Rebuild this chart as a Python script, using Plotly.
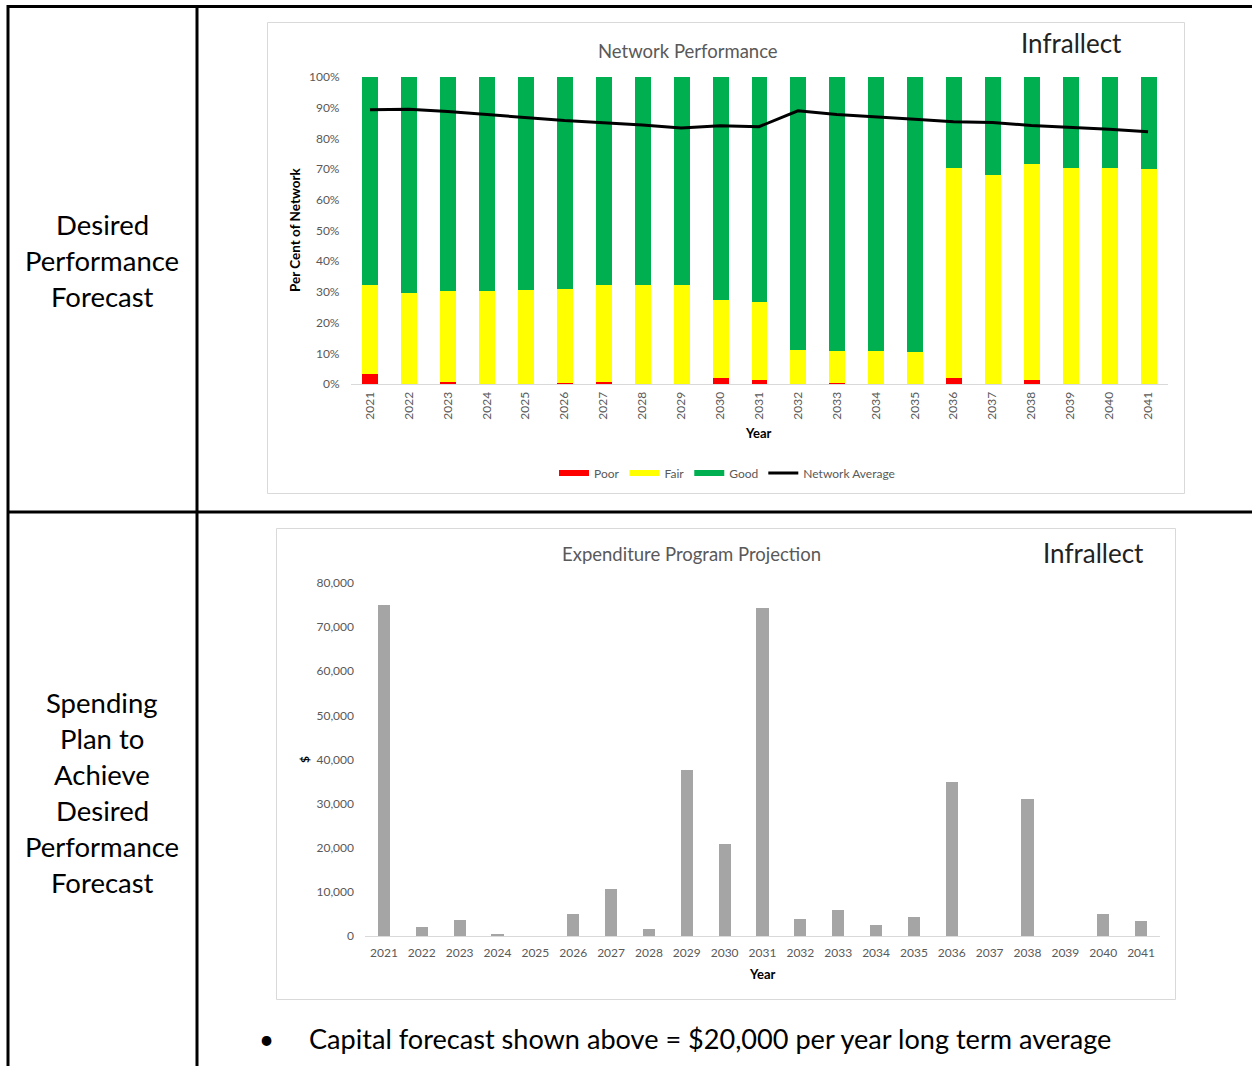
import plotly.graph_objects as go

W, H = 1252, 1066

years = [str(y) for y in range(2021, 2042)]
poor = [3.1, 0.0, 0.5, 0.0, 0.0, 0.4, 0.7, 0.0, 0.0, 2.0, 1.3,
        0.0, 0.3, 0.0, 0.0, 2.0, 0.0, 1.3, 0.0, 0.0, 0.0]
fair_top = [32.2, 29.8, 30.3, 30.3, 30.5, 30.9, 32.2, 32.2, 32.2, 27.3, 26.6,
            11.2, 10.9, 10.9, 10.5, 70.4, 68.2, 71.7, 70.4, 70.4, 70.1]
network_avg = [89.3, 89.5, 88.8, 87.8, 86.8, 85.8, 85.1, 84.4, 83.4, 84.1, 83.8,
               89.0, 87.8, 86.9, 86.2, 85.4, 85.2, 84.2, 83.7, 83.0, 82.2]
fair = [round(f - p, 2) for f, p in zip(fair_top, poor)]
good = [round(100 - f, 2) for f in fair_top]

expenditure = [75000, 2100, 3600, 500, 0, 4900, 10700, 1500, 37700, 20800,
               74300, 3900, 6000, 2400, 4200, 35000, 0, 31100, 0, 5100, 3300]

FONT = "Lato"
GRAY = "#595959"


def px(x):
    return x / W


def py(y):
    return 1 - y / H


fig = go.Figure()

# ---- top chart: stacked condition bars ----
for name, vals, col in [("Poor", poor, "#ff0000"), ("Fair", fair, "#ffff00"),
                        ("Good", good, "#00b050")]:
    fig.add_trace(go.Bar(x=years, y=vals, name=name, marker_color=col,
                         marker_line_width=0, width=0.41, showlegend=False,
                         xaxis="x", yaxis="y"))
fig.add_trace(go.Scatter(x=years, y=network_avg, mode="lines", name="Network Average",
                         line=dict(color="black", width=3), showlegend=False,
                         xaxis="x", yaxis="y"))
# legend entries
for name, col, w in [("Poor", "#ff0000", 6), ("Fair", "#ffff00", 6),
                     ("Good", "#00b050", 6), ("Network Average", "black", 3)]:
    fig.add_trace(go.Scatter(x=[None], y=[None], mode="lines", name=name,
                             line=dict(color=col, width=w), xaxis="x", yaxis="y"))

# ---- bottom chart: expenditure ----
fig.add_trace(go.Bar(x=years, y=expenditure, marker_color="#a5a5a5", marker_line_width=0,
                     width=0.32, showlegend=False, xaxis="x2", yaxis="y2"))

shapes = []
# table lines
line = dict(color="black", width=3)
shapes += [
    dict(type="line", xref="paper", yref="paper", x0=px(8), x1=px(8), y0=py(5), y1=py(1066), line=line),
    dict(type="line", xref="paper", yref="paper", x0=px(197), x1=px(197), y0=py(5), y1=py(1066), line=line),
    dict(type="line", xref="paper", yref="paper", x0=px(7), x1=px(1252), y0=py(6.5), y1=py(6.5), line=line),
    dict(type="line", xref="paper", yref="paper", x0=px(7), x1=px(1252), y0=py(512), y1=py(512), line=line),
]
# chart frames
frame = dict(color="#d9d9d9", width=1)
shapes += [
    dict(type="rect", xref="paper", yref="paper", x0=px(267.5), x1=px(1184.5), y0=py(22.5), y1=py(493.5), line=frame),
    dict(type="rect", xref="paper", yref="paper", x0=px(276.5), x1=px(1175.5), y0=py(528.5), y1=py(999.5), line=frame),
]

ann = []


def text(x, y, t, size, color="black", bold=False, angle=0, xanchor="center"):
    ann.append(dict(x=px(x), y=py(y), xref="paper", yref="paper", text=("<b>%s</b>" % t) if bold else t,
                    showarrow=False, xanchor=xanchor, yanchor="middle", textangle=angle,
                    font=dict(family=FONT, size=size, color=color)))


# left cells
for i, t in enumerate(["Desired", "Performance", "Forecast"]):
    text(102, 224 + 36 * i, t, 27.5)
for i, t in enumerate(["Spending", "Plan to", "Achieve", "Desired", "Performance", "Forecast"]):
    text(102, 703 + 35.8 * i, t, 27.5)

# chart titles and logos
text(688, 51, "Network Performance", 18.5, GRAY)
text(1071, 43, "Infrallect", 26, "#222222")
text(691, 554, "Expenditure Program Projection", 18.5, GRAY)
text(1093, 553, "Infrallect", 26, "#222222")

# axis titles
text(295, 230, "Per Cent of Network", 13.5, "black", bold=True, angle=-90)
text(758, 433, "Year", 13, "black", bold=True)
text(304, 760, "$", 12, "black", bold=True, angle=-90)
text(762, 974, "Year", 13, "black", bold=True)

# bullet
text(266, 1039, "•", 26, xanchor="center")
text(307, 1038, "Capital forecast shown above = $20,000 per year long term average", 27.1, xanchor="left")

tickfont = dict(family=FONT, size=12, color=GRAY)

fig.update_layout(
    width=W, height=H, margin=dict(l=0, r=0, t=0, b=0, autoexpand=False),
    paper_bgcolor="white", plot_bgcolor="white",
    barmode="stack", bargap=0,
    shapes=shapes, annotations=ann,
    legend=dict(orientation="h", x=px(727), xanchor="center", y=py(473), yanchor="middle",
                font=dict(family=FONT, size=12, color=GRAY), bgcolor="rgba(0,0,0,0)",
                itemwidth=30, tracegroupgap=0, traceorder="normal"),
    xaxis=dict(domain=[px(350.5), px(1167.5)], anchor="y", type="category", automargin=False,
               showgrid=False, showline=True, linecolor="#d9d9d9", linewidth=1,
               tickangle=-90, tickfont=tickfont, ticks="", ticklabelstandoff=2, zeroline=False),
    yaxis=dict(domain=[py(384), py(77)], anchor="x", range=[0, 100], tickvals=list(range(0, 101, 10)),
               ticktext=["%d%%" % v for v in range(0, 101, 10)], showgrid=False, showline=False,
               automargin=False, zeroline=False, tickfont=tickfont, ticks="", ticklabelstandoff=10),
    xaxis2=dict(domain=[px(365), px(1160)], anchor="y2", type="category", automargin=False,
                showgrid=False, showline=True, linecolor="#d9d9d9", linewidth=1,
                tickfont=tickfont, ticks="", ticklabelstandoff=6, zeroline=False),
    yaxis2=dict(domain=[py(936), py(583)], anchor="x2", range=[0, 80000], tickvals=list(range(0, 80001, 10000)),
                tickformat=",", showgrid=False, showline=False, zeroline=False, automargin=False,
                tickfont=tickfont, ticks="", ticklabelstandoff=10),
)

fig.write_html("out.html")
